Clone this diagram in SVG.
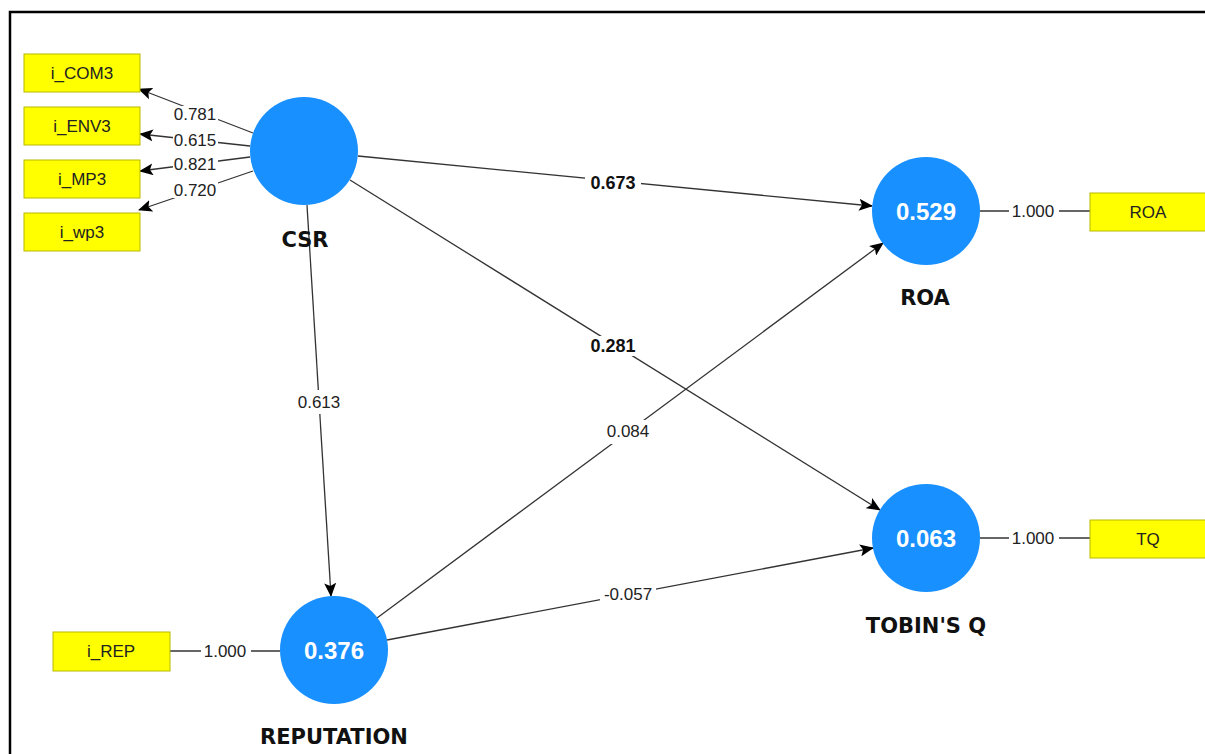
<svg xmlns="http://www.w3.org/2000/svg" width="1205" height="754" viewBox="0 0 1205 754">
<defs>
<marker id="ah" markerWidth="14" markerHeight="12" refX="13" refY="6" orient="auto" markerUnits="userSpaceOnUse">
<path d="M0,0 L14,6 L0,12 L3,6 Z" fill="#000"/>
</marker>
<style>
.edge{stroke:#333;stroke-width:1.3;fill:none}
.arr{marker-end:url(#ah)}
.lbg{fill:#fff}
.lbl{font-family:"Liberation Sans",Arial,sans-serif;font-size:17px;fill:#222;text-anchor:middle;dominant-baseline:central}
.lblb{font-family:"Liberation Sans",Arial,sans-serif;font-size:18px;font-weight:bold;fill:#111;text-anchor:middle;dominant-baseline:central}
.circ{fill:#1890FF}
.cval{font-family:"Liberation Sans",Arial,sans-serif;font-size:24px;font-weight:bold;fill:#fff;text-anchor:middle;dominant-baseline:central}
.cname{font-family:"DejaVu Sans",sans-serif;font-size:21px;font-weight:bold;fill:#111;text-anchor:middle;dominant-baseline:central}
.box{fill:#FFFF00;stroke:#B8B800;stroke-width:1}
.btxt{font-family:"Liberation Sans",Arial,sans-serif;font-size:17px;fill:#222;text-anchor:middle;dominant-baseline:central}
</style>
</defs>
<rect width="1205" height="754" fill="#fff"/>
<path d="M10,754 V12 H1205" fill="none" stroke="#000" stroke-width="2.5"/>

<g id="connectors">
<line class="edge arr" x1="253" y1="133" x2="139" y2="89"/>
<line class="edge arr" x1="250" y1="146" x2="140" y2="134"/>
<line class="edge arr" x1="250" y1="157" x2="140" y2="171"/>
<line class="edge arr" x1="253" y1="171" x2="139" y2="210"/>
<line class="edge arr" x1="358" y1="156" x2="872" y2="206"/>
<line class="edge arr" x1="350" y1="180" x2="880" y2="510"/>
<line class="edge arr" x1="307" y1="205" x2="331" y2="596"/>
<line class="edge arr" x1="377" y1="618" x2="883" y2="243"/>
<line class="edge arr" x1="387" y1="640" x2="873" y2="548"/>
<line class="edge" x1="980" y1="211" x2="1090" y2="211"/>
<line class="edge" x1="980" y1="538" x2="1090" y2="538"/>
<line class="edge" x1="170" y1="651" x2="280" y2="651"/>

<rect class="lbg" x="173" y="106" width="45" height="16"/>
<text class="lbl" x="195" y="114">0.781</text>
<rect class="lbg" x="173" y="133" width="45" height="15"/>
<text class="lbl" x="195" y="140">0.615</text>
<rect class="lbg" x="173" y="157" width="45" height="15"/>
<text class="lbl" x="195" y="164">0.821</text>
<rect class="lbg" x="173" y="182" width="45" height="16"/>
<text class="lbl" x="195" y="190">0.720</text>

<rect class="lbg" x="585" y="173" width="56" height="20"/>
<text class="lblb" x="613" y="183">0.673</text>
<rect class="lbg" x="585" y="336" width="56" height="20"/>
<text class="lblb" x="613" y="346">0.281</text>
<rect class="lbg" x="295" y="390" width="48" height="24"/>
<text class="lbl" x="319" y="402">0.613</text>
<rect class="lbg" x="603" y="420" width="50" height="24"/>
<text class="lbl" x="628" y="431">0.084</text>
<rect class="lbg" x="600" y="585" width="56" height="20"/>
<text class="lbl" x="628" y="594">-0.057</text>
<rect class="lbg" x="1009" y="203" width="50" height="18"/>
<text class="lbl" x="1033" y="211">1.000</text>
<rect class="lbg" x="1009" y="530" width="50" height="18"/>
<text class="lbl" x="1033" y="538">1.000</text>
<rect class="lbg" x="201" y="643" width="50" height="18"/>
<text class="lbl" x="225" y="651">1.000</text>
</g>

<g id="i_COM3"><rect class="box" x="24" y="54" width="116" height="38"/><text class="btxt" x="82" y="73">i_COM3</text></g>
<g id="i_ENV3"><rect class="box" x="24" y="107" width="116" height="38"/><text class="btxt" x="82" y="126">i_ENV3</text></g>
<g id="i_MP3"><rect class="box" x="24" y="160" width="116" height="38"/><text class="btxt" x="82" y="179">i_MP3</text></g>
<g id="i_wp3"><rect class="box" x="24" y="213" width="116" height="38"/><text class="btxt" x="82" y="232">i_wp3</text></g>
<g id="ROA_ind"><rect class="box" x="1090" y="193" width="120" height="38"/><text class="btxt" x="1148" y="212">ROA</text></g>
<g id="TQ_ind"><rect class="box" x="1090" y="520" width="120" height="38"/><text class="btxt" x="1148" y="539">TQ</text></g>
<g id="i_REP"><rect class="box" x="53" y="632" width="117" height="39"/><text class="btxt" x="111" y="651">i_REP</text></g>

<g id="CSR"><circle class="circ" cx="304" cy="151" r="54"/><text class="cname" x="305" y="240">CSR</text></g>
<g id="ROA"><circle class="circ" cx="926" cy="211" r="54"/><text class="cval" x="926" y="211">0.529</text><text class="cname" x="925" y="298">ROA</text></g>
<g id="TOBINSQ"><circle class="circ" cx="926" cy="538" r="54"/><text class="cval" x="926" y="538">0.063</text><text class="cname" x="926" y="626">TOBIN'S Q</text></g>
<g id="REPUTATION"><circle class="circ" cx="334" cy="650" r="54"/><text class="cval" x="334" y="650">0.376</text><text class="cname" x="334" y="737">REPUTATION</text></g>
</svg>
